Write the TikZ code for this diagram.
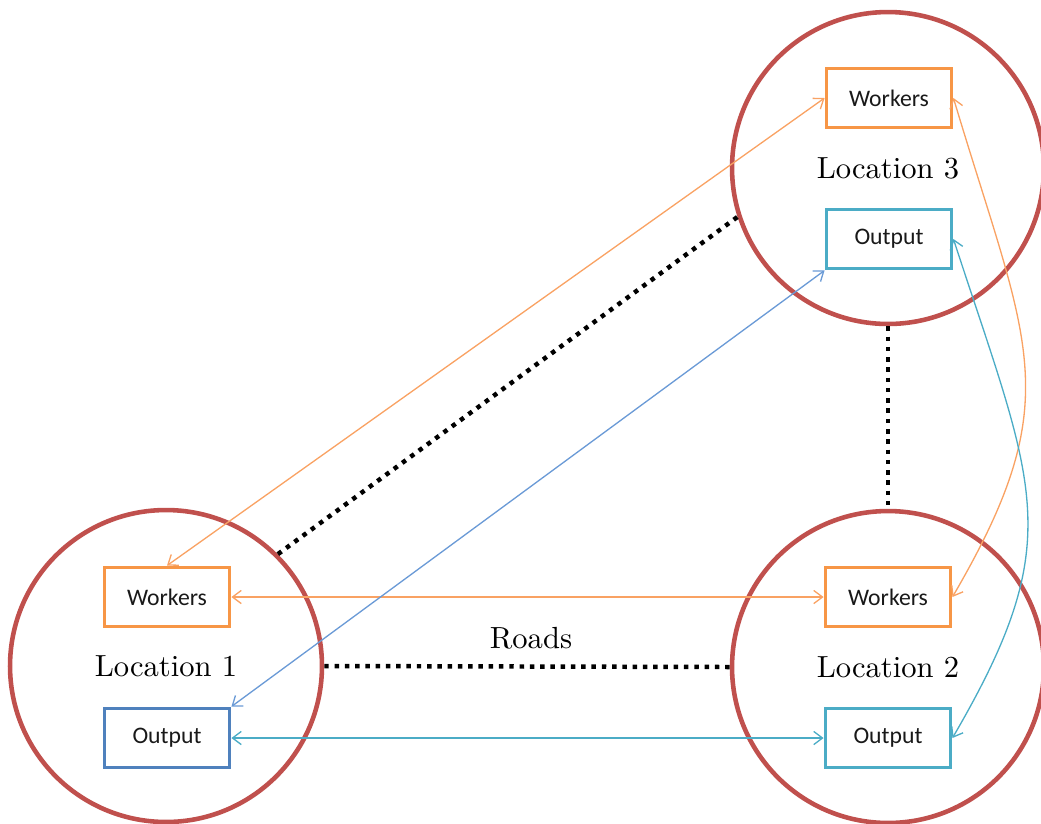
\documentclass[tikz,border=0pt]{standalone}
\usepackage{fontspec}
\newfontfamily\boxfont{Carlito}
\newfontfamily\labelfont{lmroman10-regular.otf}
\usetikzlibrary{arrows.meta}
\definecolor{locred}{HTML}{C0504D}
\definecolor{workorange}{HTML}{F79646}
\definecolor{linkorange}{HTML}{F9A263}
\definecolor{outcyan}{HTML}{4BACC6}
\definecolor{outblue}{HTML}{4F81BD}
\definecolor{linkblue}{HTML}{6A9AD6}
\tikzset{
  location/.style={circle, draw=locred, line width=2.6pt, minimum size=6.24cm,
    inner sep=0pt, font=\labelfont\fontsize{17.4}{20}\selectfont},
  unitbox/.style={rectangle, draw, line width=2.2pt, minimum width=2.5cm,
    minimum height=1.18cm, inner sep=0pt, text=black!90,
    font=\boxfont\fontsize{13.5}{16}\selectfont},
  workbox/.style={unitbox, draw=workorange},
  outbox/.style={unitbox, draw=outcyan},
  road/.style={line width=2.55pt, dash pattern=on 2.55pt off 3.3pt},
  flow/.style={line width=0.75pt, {Straight Barb[length=5pt,width=7.5pt]}-{Straight Barb[length=5pt,width=7.5pt]}},
}
\begin{document}
\begin{tikzpicture}[x=0.02cm, y=-0.02cm]
  \useasboundingbox (0,0) rectangle (1041,823);

  % locations
  \node[location] (L1) at (166,666) {Location 1};
  \node[location] (L2) at (888,667) {Location 2};
  \node[location] (L3) at (888,168) {Location 3};

  % workers and output boxes
  \node[workbox] (W1) at (167,597) {Workers};
  \node[unitbox, draw=outblue] (O1) at (167,738) {Output};
  \node[workbox] (W2) at (888,597) {Workers};
  \node[outbox] (O2) at (888,738) {Output};
  \node[workbox] (W3) at (889,98) {Workers};
  \node[outbox] (O3) at (889,239) {Output};

  % roads
  \draw[road] (L1.east) -- (L2.west);
  \draw[road] (L1.45) -- (L3.198.8);
  \draw[road] (L3.south) -- (L2.north);
  \node[font=\labelfont\fontsize{17.4}{20}\selectfont] (roads) at (531,638) {Roads};

  % flows between locations
  \draw[flow, linkorange] (W1.north) -- (W3.west);
  \draw[flow, linkorange] (W1.east) -- (W2.west);
  \draw[flow, linkblue] (O1.north east) -- (O3.south west);
  \draw[flow, outcyan] (O1.east) -- (O2.west);
  \draw[flow, linkorange] (W3.east) .. controls (1028,347) and (1069,397) .. (W2.east);
  \draw[flow, outcyan] (O3.east) .. controls (1035,489) and (1069,538) .. (O2.east);
\end{tikzpicture}
\end{document}
